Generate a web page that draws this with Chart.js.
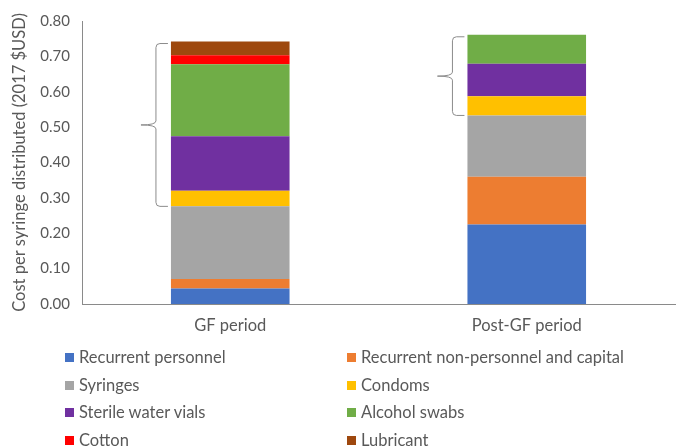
<!DOCTYPE html>
<html>
<head>
<meta charset="utf-8">
<script src="https://cdn.jsdelivr.net/npm/chart.js@4/dist/chart.umd.min.js"></script>
<style>
  html, body { margin: 0; padding: 0; background: #fff; }
  #wrap { position: relative; width: 681px; height: 448px; overflow: hidden; font-family: Lato, "Liberation Sans", sans-serif; }
  #c { position: absolute; left: 0; top: 0; }
  .lg { position: absolute; font-size: 16.5px; line-height: 20px; color: #595959; white-space: nowrap; }
  .lg .bx { position: absolute; left: 0; top: 6px; width: 9px; height: 9px; }
  .lg .tx { position: absolute; left: 14px; top: 0; }
</style>
</head>
<body>
<div id="wrap">
  <canvas id="c" width="681" height="448"></canvas>
  <div id="legend"></div>
</div>
<script>
const categories = ["GF period", "Post-GF period"];
const seriesNames = [
  "Recurrent personnel",
  "Recurrent non-personnel and capital",
  "Syringes",
  "Condoms",
  "Sterile water vials",
  "Alcohol swabs",
  "Cotton",
  "Lubricant"
];
const recurrentPersonnel = [0.044, 0.225];
const recurrentNonPersonnel = [0.027, 0.135];
const syringes = [0.205, 0.173];
const condoms = [0.044, 0.054];
const sterileWaterVials = [0.154, 0.092];
const alcoholSwabs = [0.204, 0.082];
const cotton = [0.025, 0];
const lubricant = [0.039, 0];
const yTicks = [0, 0.1, 0.2, 0.3, 0.4, 0.5, 0.6, 0.7, 0.8];
const yTitle = "Cost per syringe distributed (2017 $USD)";
// brace groups the stacked segments from this series index to the top
const braceFromSeries = 3;

const seriesValues = [recurrentPersonnel, recurrentNonPersonnel, syringes, condoms,
  sterileWaterVials, alcoholSwabs, cotton, lubricant];
const colors = ["#4472C4", "#ED7D31", "#A5A5A5", "#FFC000", "#7030A0", "#70AD47", "#FF0000", "#9E480E"];

const FONT = "Lato, 'Liberation Sans', sans-serif";
const TXT = "#595959";

const bracePlugin = {
  id: "braces",
  afterDatasetsDraw(chart) {
    const ctx = chart.ctx;
    const y = chart.scales.y;
    categories.forEach((cat, ci) => {
      let base = 0;
      for (let s = 0; s < braceFromSeries; s++) base += seriesValues[s][ci];
      let top = 0;
      for (let s = 0; s < seriesValues.length; s++) top += seriesValues[s][ci];
      const bar = chart.getDatasetMeta(0).data[ci];
      const barLeft = bar.x - bar.width / 2;
      const yTop = y.getPixelForValue(top) + 2;
      const yBot = y.getPixelForValue(base);
      const yMid = (yTop + yBot) / 2;
      const xLine = barLeft - 15;
      const xHook = barLeft - 3;
      const xTip = xLine - 15;
      const r = 4;
      ctx.save();
      ctx.strokeStyle = "#8c8c8c";
      ctx.lineWidth = 1;
      ctx.beginPath();
      ctx.moveTo(xHook, yTop);
      ctx.lineTo(xLine + r, yTop);
      ctx.quadraticCurveTo(xLine, yTop, xLine, yTop + r);
      ctx.lineTo(xLine, yMid - 4);
      ctx.quadraticCurveTo(xLine, yMid, xTip, yMid);
      ctx.quadraticCurveTo(xLine, yMid, xLine, yMid + 4);
      ctx.lineTo(xLine, yBot - r);
      ctx.quadraticCurveTo(xLine, yBot, xLine + r, yBot);
      ctx.lineTo(xHook, yBot);
      ctx.stroke();
      ctx.restore();
    });
  }
};

const chart = new Chart(document.getElementById("c"), {
  type: "bar",
  data: {
    labels: categories,
    datasets: seriesValues.map((vals, i) => ({
      label: seriesNames[i],
      data: vals,
      backgroundColor: colors[i],
      borderWidth: 0,
      categoryPercentage: 1.0,
      barPercentage: 0.4
    }))
  },
  options: {
    responsive: false,
    devicePixelRatio: 1,
    animation: false,
    layout: { padding: { top: 18, right: 6, left: 0, bottom: 0 } },
    plugins: { legend: { display: false }, tooltip: { enabled: false } },
    scales: {
      x: {
        stacked: true,
        grid: { display: false, drawTicks: false },
        border: { display: true, color: "#8a8a8a", width: 1 },
        ticks: { color: TXT, font: { family: FONT, size: 16.5 }, padding: 12 },
        afterFit(scale) { scale.height = 144; }
      },
      y: {
        stacked: true,
        min: 0,
        max: 0.8,
        grid: { display: false, drawTicks: false },
        border: { display: true, color: "#8a8a8a", width: 1 },
        afterBuildTicks(scale) { scale.ticks = yTicks.map(v => ({ value: v })); },
        ticks: {
          color: TXT,
          font: { family: FONT, size: 15 },
          padding: 12,
          callback: (v) => Number(v).toFixed(2)
        },
        title: {
          display: true,
          text: yTitle,
          color: TXT,
          font: { family: FONT, size: 16.5 },
          padding: { top: 10, bottom: 0 }
        },
        afterFit(scale) { scale.width = 82; }
      }
    }
  },
  plugins: [bracePlugin]
});

// HTML legend in two columns
const legend = document.getElementById("legend");
const colX = [65, 347];
const rowY = [347, 375, 402, 430];
seriesNames.forEach((name, i) => {
  const d = document.createElement("div");
  d.className = "lg";
  d.style.left = colX[i % 2] + "px";
  d.style.top = rowY[Math.floor(i / 2)] + "px";
  d.innerHTML = '<span class="bx" style="background:' + colors[i] + '"></span><span class="tx"></span>';
  d.querySelector(".tx").textContent = name;
  legend.appendChild(d);
});
</script>
</body>
</html>
